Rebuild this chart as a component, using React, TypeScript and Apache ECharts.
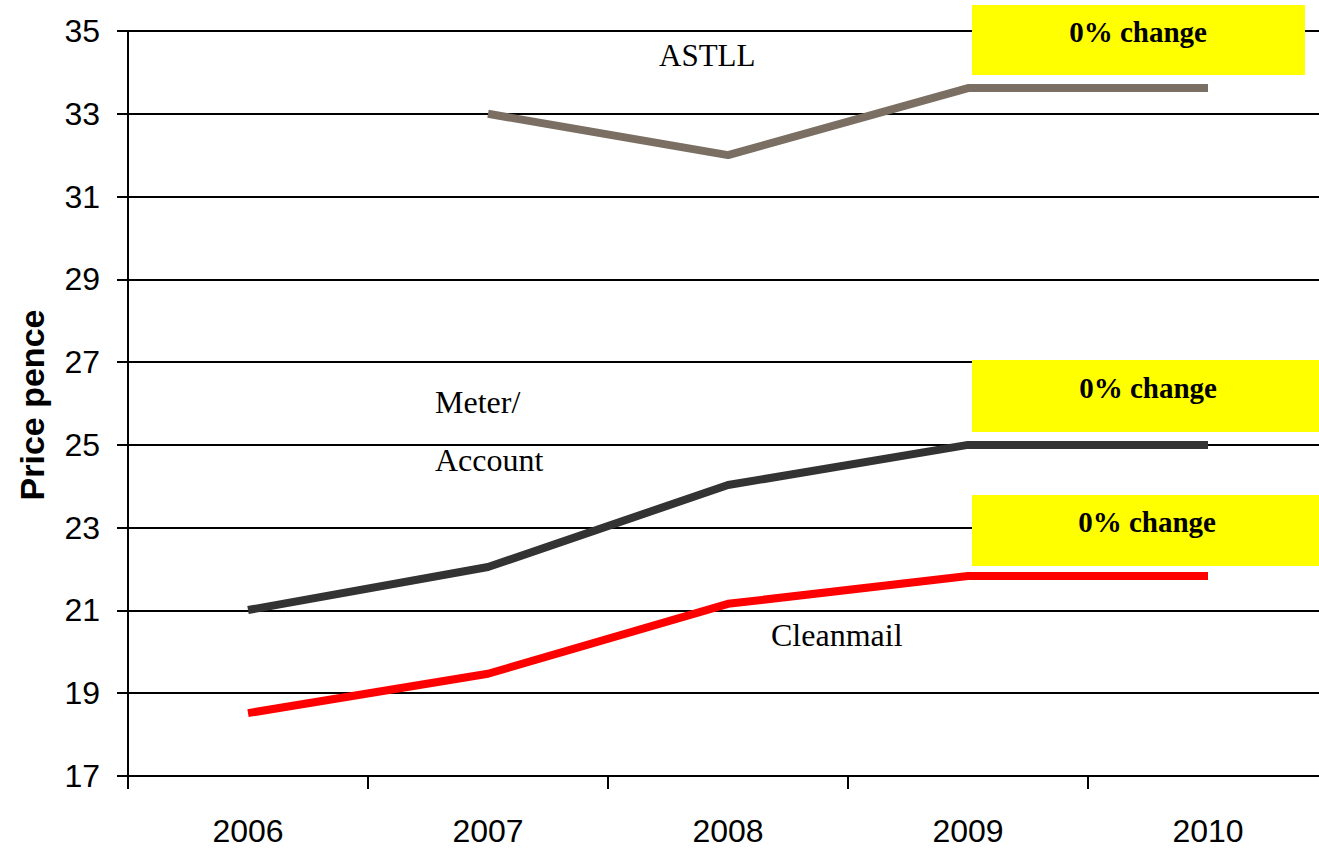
import React, { useEffect, useRef } from "react";
import * as echarts from "echarts";

const categories = ["2006", "2007", "2008", "2009", "2010"];
const astll = [null, 33.0, 32.0, 33.62, 33.62];
const meterAccount = [21.01, 22.05, 24.03, 25.0, 25.0];
const cleanmail = [18.52, 19.47, 21.16, 21.83, 21.83];
const yTicks = { min: 17, max: 35, interval: 2 };
const changeText = "0% change";

export default function App() {
  const ref = useRef<HTMLDivElement>(null);
  useEffect(() => {
    if (!ref.current) return;
    const chart = echarts.init(ref.current, null, { renderer: "svg" });
    const serif = "'Liberation Serif', 'DejaVu Serif', serif";
    const sans = "'Liberation Sans', Arial, sans-serif";
    const box = (x: number, y: number, w: number, h: number, tx: number, ty: number) => [
      { type: "rect", shape: { x, y, width: w, height: h }, style: { fill: "#ffff00" }, z: 10 },
      {
        type: "text",
        x: tx,
        y: ty,
        z: 11,
        style: { text: changeText, font: `bold 29px ${serif}`, fill: "#000", align: "center", verticalAlign: "middle" },
      },
    ];
    const label = (text: string, x: number, y: number, size: number) => ({
      type: "text",
      x,
      y,
      z: 11,
      style: { text, font: `${size}px ${serif}`, fill: "#000", align: "left", verticalAlign: "middle" },
    });
    chart.setOption({
      animation: false,
      grid: { left: 128, top: 31, width: 1200, height: 745, containLabel: false },
      xAxis: {
        type: "category",
        data: categories,
        boundaryGap: true,
        axisLine: { lineStyle: { color: "#000", width: 2 } },
        axisTick: { show: true, length: 13, inside: false, lineStyle: { color: "#000", width: 2 } },
        axisLabel: { color: "#000", fontSize: 32, fontFamily: sans, margin: 39 },
        splitLine: { show: false },
      },
      yAxis: {
        type: "value",
        min: yTicks.min,
        max: yTicks.max,
        interval: yTicks.interval,
        axisLine: { show: true, lineStyle: { color: "#000", width: 2 } },
        axisTick: { show: true, length: 11, lineStyle: { color: "#000", width: 2 } },
        axisLabel: { color: "#000", fontSize: 32, fontFamily: sans, margin: 28 },
        splitLine: { show: true, lineStyle: { color: "#000", width: 2 } },
      },
      series: [
        {
          name: "ASTLL",
          type: "line",
          data: astll,
          showSymbol: false,
          lineStyle: { color: "#7b6e62", width: 8 },
          itemStyle: { color: "#7b6e62" },
        },
        {
          name: "Meter/Account",
          type: "line",
          data: meterAccount,
          showSymbol: false,
          lineStyle: { color: "#333333", width: 8 },
          itemStyle: { color: "#333333" },
        },
        {
          name: "Cleanmail",
          type: "line",
          data: cleanmail,
          showSymbol: false,
          lineStyle: { color: "#ff0000", width: 8 },
          itemStyle: { color: "#ff0000" },
        },
      ],
      graphic: [
        ...box(972, 5, 333, 70, 1138, 32),
        ...box(972, 360, 360, 72, 1148, 388),
        ...box(972, 495, 360, 71, 1147, 522),
        label("ASTLL", 659, 55, 31),
        label("Meter/", 435, 402, 32),
        label("Account", 435, 460, 32),
        label("Cleanmail", 771, 635, 32),
        {
          type: "text",
          x: 32,
          y: 405,
          rotation: Math.PI / 2,
          z: 11,
          style: { text: "Price pence", font: `bold 34px ${sans}`, fill: "#000", align: "center", verticalAlign: "middle" },
        },
      ],
    });
    return () => chart.dispose();
  }, []);
  return (
    <div style={{ position: "absolute", left: 0, top: 0, width: 1319, height: 849, overflow: "hidden" }}>
      <div ref={ref} style={{ width: 1340, height: 849 }} />
    </div>
  );
}
